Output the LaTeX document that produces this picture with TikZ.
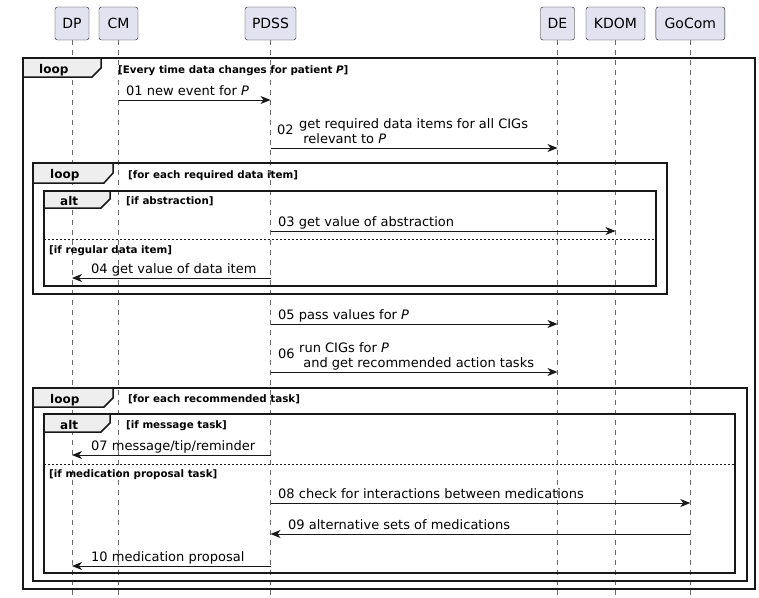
\documentclass[tikz,border=0pt]{standalone}
\usepackage{fontspec}
\setmainfont{DejaVu Sans}
\usetikzlibrary{arrows.meta}
\definecolor{SeqInk}{HTML}{181818}
\definecolor{SeqPart}{HTML}{E2E2F0}
\definecolor{SeqTab}{HTML}{EEEEEE}

\begin{document}
\begin{tikzpicture}[
  x=1pt, y=-1pt,
  >={Stealth[length=10pt,width=8pt,inset=3pt]},
  participant/.style = {draw=SeqInk, fill=SeqPart, rounded corners=2.5pt,
                        minimum height=33pt, inner sep=0pt,
                        font=\fontsize{14}{17}\selectfont},
  life/.style     = {draw=SeqInk!65, dash pattern=on 5pt off 5pt, line width=0.6pt},
  seqframe/.style = {draw=SeqInk, line width=1.5pt},
  fragtab/.style  = {seqframe, fill=SeqTab},
  tablbl/.style   = {font=\fontsize{12}{14}\selectfont\bfseries, inner sep=0pt, anchor=base west},
  guard/.style    = {font=\fontsize{10.3}{12}\selectfont\bfseries, inner sep=0pt, anchor=base west},
  divider/.style  = {draw=SeqInk, dash pattern=on 2pt off 2pt, line width=0.8pt},
  msg/.style      = {->, draw=SeqInk, line width=1pt},
  lbl/.style      = {font=\fontsize{13}{15}\selectfont, inner sep=0pt, anchor=base west}
]
\useasboundingbox (0,0) rectangle (759,597);

%% ---- participants and their lifelines ---------------------------------
\node[participant, minimum width=34pt] (dp)    at (72,23.5)    {DP};
\node[participant, minimum width=39pt] (cm)    at (118.5,23.5) {CM};
\node[participant, minimum width=51pt] (pdss)  at (270.5,23.5) {PDSS};
\node[participant, minimum width=34pt] (de)    at (557.5,23.5) {DE};
\node[participant, minimum width=59pt] (kdom)  at (615.5,23.5) {KDOM};
\node[participant, minimum width=69pt] (gocom) at (690.3,23.5) {GoCom};

\coordinate (bottom) at (0,597);
\draw[life] (dp.south)    -- (dp |- bottom);
\draw[life] (cm.south)    -- (cm |- bottom);
\draw[life] (pdss.south)  -- (pdss |- bottom);
\draw[life] (de.south)    -- (de |- bottom);
\draw[life] (kdom.south)  -- (kdom |- bottom);
\draw[life] (gocom.south) -- (gocom |- bottom);

%% ---- outer loop ---------------------------------------------------------
\draw[seqframe] (23,58) rectangle (755,589);
\draw[fragtab] (23,58) -- (101,58) -- (101,68) -- (92,77) -- (23,77) -- cycle;
\node[tablbl] (loopA) at (39,73) {loop};
\node[guard] (gA) at (118,73.5) {[Every time data changes for patient \textit{P}]};

\coordinate (r01) at (0,100);
\node[lbl] (t01) at (126,95) {01 new event for \textit{P}};
\draw[msg] (cm |- r01) -- (pdss |- r01);

\coordinate (r02) at (0,148);
\node[lbl] (n02) at (277,134.5) {02};
\node[lbl] (t02a) at (299,128.5) {get required data items for all CIGs};
\node[lbl] (t02b) at (299,143.5) {\ relevant to \textit{P}};
\draw[msg] (pdss |- r02) -- (de |- r02);

%% ---- loop over required data items --------------------------------------
\draw[seqframe] (33,163) rectangle (667,294);
\draw[fragtab] (33,163) -- (113,163) -- (113,173) -- (104,183) -- (33,183) -- cycle;
\node[tablbl] (loopB) at (50,178.5) {loop};
\node[guard] (gB) at (128,178) {[for each required data item]};

\draw[seqframe] (44,191) rectangle (656,286);
\draw[fragtab] (44,191) -- (110,191) -- (110,199) -- (101,208) -- (44,208) -- cycle;
\node[tablbl] (altB) at (60,205.5) {alt};
\node[guard] (gB1) at (126,204) {[if abstraction]};

\coordinate (r03) at (0,231);
\node[lbl] (t03) at (278,226) {03 get value of abstraction};
\draw[msg] (pdss |- r03) -- (kdom |- r03);

\draw[divider] (44,239) -- (656,239);
\node[guard] (gB2) at (49,253) {[if regular data item]};

\coordinate (r04) at (0,278);
\node[lbl] (t04) at (91,273) {04 get value of data item};
\draw[msg] (pdss |- r04) -- (dp |- r04);

%% ---- values in, tasks out ------------------------------------------------
\coordinate (r05) at (0,324);
\node[lbl] (t05) at (278,319) {05 pass values for \textit{P}};
\draw[msg] (pdss |- r05) -- (de |- r05);

\coordinate (r06) at (0,372);
\node[lbl] (n06) at (278,358.5) {06};
\node[lbl] (t06a) at (299,352.5) {run CIGs for \textit{P}};
\node[lbl] (t06b) at (299,367.5) {\ and get recommended action tasks};
\draw[msg] (pdss |- r06) -- (de |- r06);

%% ---- loop over recommended tasks ----------------------------------------
\draw[seqframe] (33,388) rectangle (747,581);
\draw[fragtab] (33,388) -- (113,388) -- (113,398) -- (104,407) -- (33,407) -- cycle;
\node[tablbl] (loopC) at (50,403) {loop};
\node[guard] (gC) at (128,402) {[for each recommended task]};

\draw[seqframe] (44,414) rectangle (735,573);
\draw[fragtab] (44,414) -- (110,414) -- (110,423) -- (101,432) -- (44,432) -- cycle;
\node[tablbl] (altC) at (60,429) {alt};
\node[guard] (gC1) at (126,428) {[if message task]};

\coordinate (r07) at (0,455);
\node[lbl] (t07) at (91,450) {07 message/tip/reminder};
\draw[msg] (pdss |- r07) -- (dp |- r07);

\draw[divider] (44,464) -- (735,464);
\node[guard] (gC2) at (49,477) {[if medication proposal task]};

\coordinate (r08) at (0,503);
\node[lbl] (t08) at (278,498) {08 check for interactions between medications};
\draw[msg] (pdss |- r08) -- (gocom |- r08);

\coordinate (r09) at (0,534);
\node[lbl] (t09) at (288,529) {09 alternative sets of medications};
\draw[msg] (gocom |- r09) -- (pdss |- r09);

\coordinate (r10) at (0,566);
\node[lbl] (t10) at (91,561) {10 medication proposal};
\draw[msg] (pdss |- r10) -- (dp |- r10);

\end{tikzpicture}
\end{document}
